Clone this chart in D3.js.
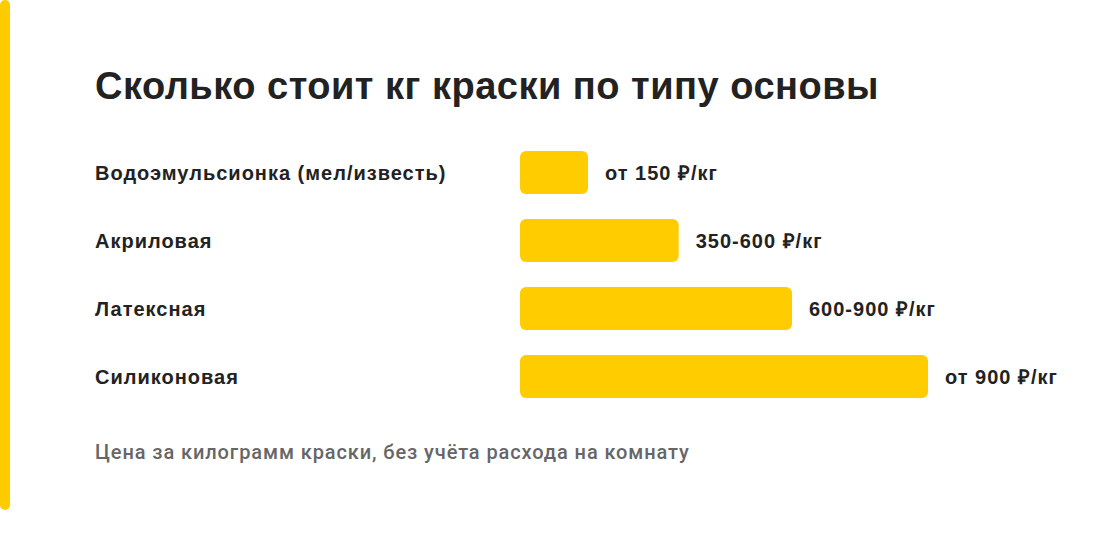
<!DOCTYPE html>
<html><head><meta charset="utf-8">
<script src="https://cdn.jsdelivr.net/npm/d3@7"></script>
<style>html,body{margin:0;padding:0;background:#fff;}svg{display:block;}</style>
</head><body>
<svg id="chart" width="1100" height="552"></svg>
<script>
const categories = ["Водоэмульсионка (мел/известь)", "Акриловая", "Латексная", "Силиконовая"];
const values = [150, 350, 600, 900];
const valueLabels = ["от 150 ₽/кг", "350-600 ₽/кг", "600-900 ₽/кг", "от 900 ₽/кг"];
const title = "Сколько стоит кг краски по типу основы";
const note = "Цена за килограмм краски, без учёта расхода на комнату";

const svg = d3.select("#chart");
const font = "'Liberation Sans', Arial, Helvetica, sans-serif";
const yellow = "#FFCC00";

svg.append("rect").attr("x", 0).attr("y", 0).attr("width", 10).attr("height", 510).attr("rx", 5).attr("fill", yellow);

svg.append("text").attr("x", 95).attr("y", 99).attr("font-family", font).attr("font-weight", "bold")
  .attr("font-size", 38).attr("letter-spacing", 0.5).attr("fill", "#222").text(title);

const x = d3.scaleLinear().domain([0, 900]).range([520, 928]);
const y = d3.scaleBand().domain(categories).range([151 - 12.5, 151 - 12.5 + 68 * 4]).paddingInner(25 / 68).paddingOuter(12.5 / 68);

const g = svg.append("g");
const rows = g.selectAll("g.row").data(categories).join("g").attr("class", "row");
rows.append("rect").attr("x", x(0)).attr("y", d => y(d)).attr("width", (d, i) => x(values[i]) - x(0))
  .attr("height", y.bandwidth()).attr("rx", 6).attr("fill", yellow);
rows.append("text").attr("x", 95).attr("y", d => y(d) + y.bandwidth() / 2).attr("dy", "0.35em").attr("font-family", font)
  .attr("font-weight", "bold").attr("font-size", 20).attr("letter-spacing", 1).attr("fill", "#222").text(d => d);
rows.append("text").attr("x", (d, i) => x(values[i]) + 17).attr("y", d => y(d) + y.bandwidth() / 2).attr("dy", "0.35em")
  .attr("font-family", font).attr("font-weight", "bold").attr("font-size", 20).attr("letter-spacing", 1)
  .attr("fill", "#222").text((d, i) => valueLabels[i]);

svg.append("text").attr("x", 95).attr("y", 459).attr("font-family", "Roboto, " + font).attr("font-weight", 500).attr("font-size", 20)
  .attr("letter-spacing", 0.9).attr("fill", "#666").text(note);
</script>
</body></html>
